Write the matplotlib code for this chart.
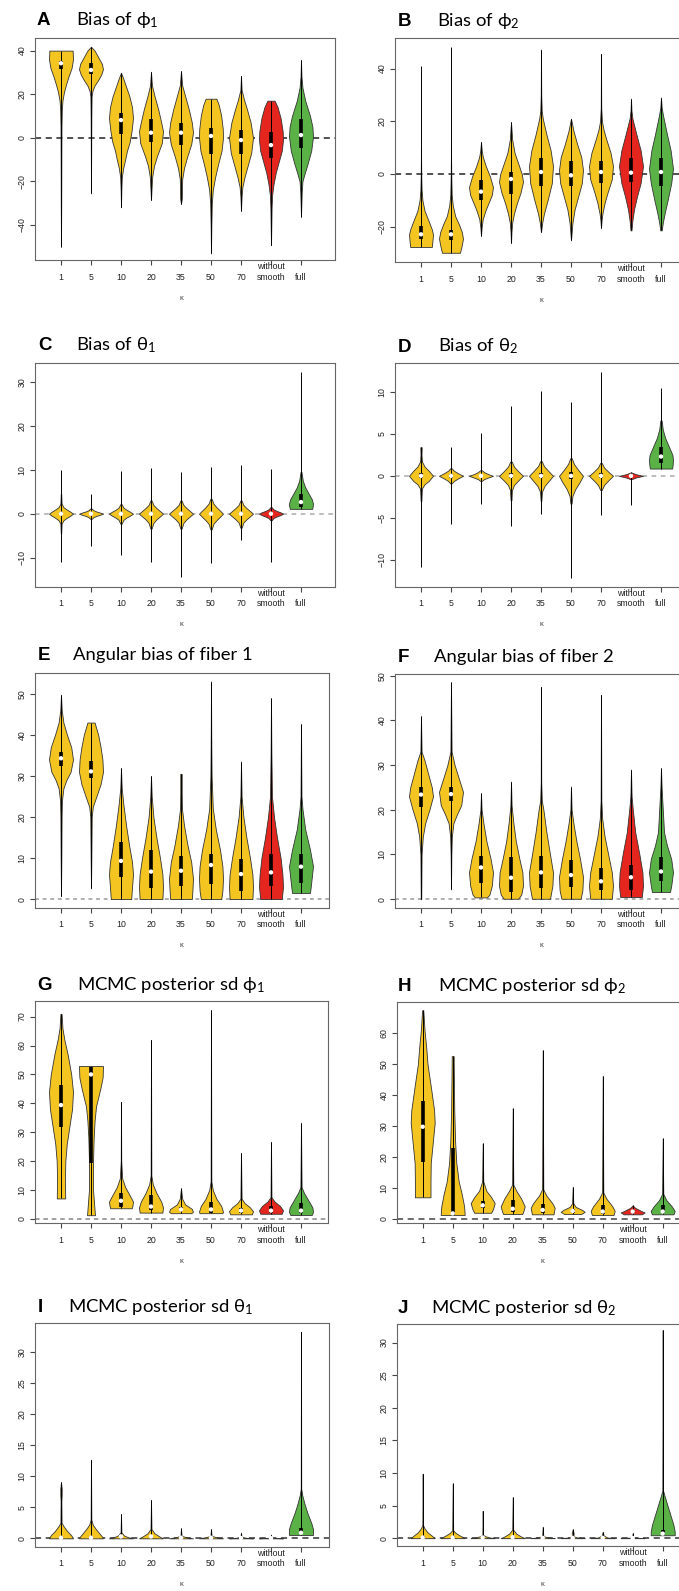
import matplotlib
matplotlib.use("Agg")
import matplotlib.pyplot as plt

plt.rcParams['font.family'] = ['Liberation Sans', 'DejaVu Sans']
plt.rcParams['mathtext.fontset'] = 'custom'
plt.rcParams['mathtext.rm'] = 'Lato'
plt.rcParams['mathtext.it'] = 'Lato:italic'

# Categorias do eixo x (kappa)
categorias = ['1', '5', '10', '20', '35', '50', '70', 'smooth', 'full']
posicoes = [1, 2, 3, 4, 5, 6, 7, 8, 9]

# Resumo de cada violino: (min, q1, mediana, q3, max)
# Perfil de cada violino: lista de (valor, largura relativa)

# A - Bias of phi1
A_stats = [(-50.0, 31.4, 34.2, 35.4, 40.0), (-25.6, 29.3, 31.1, 34.2, 41.8),
           (-32.0, 1.5, 8.1, 11.5, 29.9), (-28.7, -1.8, 2.3, 8.6, 30.3),
           (-30.5, -3.4, 2.3, 6.9, 30.6), (-53.2, -7.5, 0.8, 4.6, 17.9),
           (-33.6, -7.5, -1.1, 3.5, 28.4), (-49.3, -9.5, -3.4, 2.8, 17.0),
           (-36.3, -4.6, 1.2, 8.6, 35.7)]
A_corpo = [
    [(40, 0.97), (36, 1.0), (32, 0.88), (28, 0.62), (25, 0.45), (21, 0.25), (17, 0.12), (13, 0.07), (5, 0.04), (-10, 0.03), (-30, 0.02), (-50, 0.0)],
    [(41.8, 0.0), (40, 0.3), (37, 0.6), (34, 0.9), (31.5, 1.0), (29, 0.85), (26.5, 0.6), (24, 0.3), (21.5, 0.12), (19, 0.05), (10, 0.03), (0, 0.02), (-25.6, 0.0)],
    [(29.9, 0.0), (27, 0.2), (23, 0.45), (19, 0.7), (14, 0.92), (9, 1.0), (3, 0.88), (-2, 0.72), (-6, 0.5), (-10, 0.35), (-14, 0.18), (-18, 0.07), (-24, 0.03), (-32, 0.0)],
    [(30.3, 0.0), (24, 0.08), (19, 0.3), (13, 0.6), (7, 0.85), (3, 1.0), (-2.5, 0.9), (-8.5, 0.5), (-13, 0.25), (-18, 0.1), (-23, 0.05), (-28.7, 0.0)],
    [(30.6, 0.0), (24, 0.1), (19, 0.35), (13, 0.65), (7, 0.9), (2.5, 1.0), (-3, 0.85), (-9, 0.5), (-14, 0.25), (-19, 0.1), (-24, 0.08), (-28, 0.07), (-30.5, 0.0)],
    [(17.9, 0.45), (15, 0.65), (10, 0.85), (4, 0.98), (0, 1.0), (-6, 0.88), (-12, 0.6), (-18, 0.35), (-24, 0.15), (-30, 0.07), (-40, 0.03), (-53.2, 0.0)],
    [(28.4, 0.0), (22, 0.05), (17.5, 0.25), (13, 0.5), (7, 0.8), (0, 1.0), (-7, 0.85), (-13, 0.55), (-18, 0.3), (-22.5, 0.12), (-27, 0.05), (-33.6, 0.0)],
    [(17.0, 0.3), (14, 0.55), (9, 0.8), (3, 0.97), (-1, 1.0), (-6, 0.9), (-11, 0.65), (-16, 0.4), (-21, 0.22), (-26, 0.1), (-32, 0.05), (-40, 0.03), (-49.3, 0.0)],
    [(35.7, 0.0), (28, 0.04), (23, 0.12), (17, 0.35), (10, 0.75), (5, 0.95), (0.5, 1.0), (-6, 0.85), (-12, 0.55), (-16.5, 0.3), (-20, 0.12), (-25, 0.06), (-36.3, 0.0)],
]

# B - Bias of phi2
B_stats = [(-27.7, -24.7, -22.9, -19.9, 40.8), (-29.9, -24.9, -22.9, -21.1, 48.3),
           (-23.4, -9.8, -6.7, -2.3, 12.2), (-26.2, -7.7, -1.9, 0.9, 19.7),
           (-22.1, -4.5, 0.75, 5.9, 47.2), (-25.2, -4.5, -0.5, 4.9, 21.0),
           (-20.6, -3.3, 0.75, 5.0, 45.5), (-21.4, -2.9, 0.5, 5.9, 28.6),
           (-21.4, -4.5, 0.75, 5.9, 29.0)]
B_corpo = [
    [(10, 0.0), (0, 0.02), (-6, 0.05), (-10, 0.12), (-14, 0.3), (-18, 0.65), (-21, 0.9), (-23, 1.0), (-25.5, 0.95), (-27.7, 0.9)],
    [(10, 0.0), (0, 0.02), (-8, 0.06), (-12, 0.15), (-16, 0.35), (-19, 0.65), (-22, 0.9), (-24.5, 1.0), (-27, 0.9), (-29.9, 0.75)],
    [(12.2, 0.0), (9, 0.06), (6.5, 0.15), (3, 0.4), (-1, 0.75), (-5, 1.0), (-8, 0.9), (-10, 0.72), (-13.5, 0.4), (-17, 0.15), (-20, 0.06), (-23.4, 0.0)],
    [(19.7, 0.0), (13, 0.1), (8, 0.3), (4, 0.6), (0, 0.9), (-3, 1.0), (-7, 0.8), (-11, 0.5), (-15, 0.25), (-18.5, 0.1), (-22, 0.04), (-26.2, 0.0)],
    [(47.2, 0.0), (30, 0.02), (24, 0.06), (21, 0.15), (15, 0.45), (9, 0.8), (3, 1.0), (-3.5, 0.9), (-10, 0.55), (-15, 0.25), (-18.5, 0.1), (-22.1, 0.0)],
    [(21.0, 0.0), (16.5, 0.2), (11.5, 0.5), (6.5, 0.85), (1.5, 1.0), (-3.5, 0.9), (-8.5, 0.6), (-13.5, 0.3), (-18.5, 0.12), (-22.5, 0.05), (-25.2, 0.0)],
    [(45.5, 0.0), (25, 0.02), (20, 0.08), (17, 0.2), (13, 0.45), (8, 0.8), (3, 1.0), (-2, 0.9), (-7, 0.55), (-11, 0.3), (-15, 0.12), (-17.5, 0.05), (-20.6, 0.0)],
    [(28.6, 0.0), (24, 0.04), (21, 0.12), (15, 0.45), (9, 0.8), (3, 1.0), (-3.5, 0.8), (-8.5, 0.5), (-13.5, 0.25), (-17.5, 0.12), (-21.4, 0.04)],
    [(29.0, 0.0), (25, 0.06), (22, 0.18), (15, 0.5), (9, 0.8), (2, 1.0), (-3.5, 0.85), (-10, 0.55), (-15, 0.3), (-18.5, 0.15), (-21.4, 0.06)],
]

# C - Bias of theta1
C_stats = [(-10.9, -0.4, 0.0, 0.4, 10.0), (-7.4, -0.2, 0.0, 0.2, 4.5),
           (-9.5, -0.3, 0.0, 0.3, 9.8), (-11.0, -0.4, 0.0, 0.4, 10.5),
           (-14.5, -0.4, 0.0, 0.4, 9.5), (-11.2, -0.4, 0.0, 0.4, 10.6),
           (-6.0, -0.4, 0.0, 0.4, 11.0), (-11.0, -0.3, 0.0, 0.3, 10.2),
           (1.1, 1.5, 2.65, 4.5, 32.3)]
C_corpo = [
    [(4.5, 0.02), (2.3, 0.05), (1.5, 0.2), (1.0, 0.45), (0.5, 0.75), (0, 1.0), (-0.5, 0.75), (-1.0, 0.45), (-1.5, 0.2), (-2.3, 0.05), (-4.5, 0.02)],
    [(1.2, 0.05), (0.8, 0.2), (0.5, 0.45), (0.25, 0.75), (0, 1.0), (-0.25, 0.75), (-0.5, 0.45), (-0.8, 0.2), (-1.2, 0.05)],
    [(2.2, 0.05), (1.4, 0.2), (0.9, 0.45), (0.45, 0.75), (0, 1.0), (-0.45, 0.75), (-0.9, 0.45), (-1.4, 0.2), (-2.3, 0.05)],
    [(3.0, 0.05), (2.0, 0.2), (1.3, 0.45), (0.6, 0.75), (0, 1.0), (-0.6, 0.75), (-1.3, 0.45), (-2.1, 0.2), (-3.4, 0.05)],
    [(3.0, 0.05), (2.0, 0.2), (1.3, 0.45), (0.6, 0.75), (0, 1.0), (-0.6, 0.75), (-1.3, 0.45), (-2.1, 0.2), (-3.4, 0.05)],
    [(3.4, 0.05), (2.3, 0.2), (1.5, 0.45), (0.7, 0.75), (0, 1.0), (-0.7, 0.75), (-1.5, 0.45), (-2.3, 0.2), (-3.6, 0.05)],
    [(3.0, 0.05), (2.0, 0.2), (1.3, 0.45), (0.6, 0.75), (0, 1.0), (-0.6, 0.75), (-1.3, 0.45), (-2.0, 0.2), (-3.2, 0.05)],
    [(1.5, 0.05), (1.0, 0.2), (0.6, 0.5), (0.3, 0.8), (0, 1.0), (-0.3, 0.8), (-0.6, 0.5), (-1.0, 0.2), (-1.5, 0.05)],
    [(9.5, 0.04), (7.5, 0.15), (6, 0.35), (4.5, 0.65), (3.3, 0.9), (2.3, 1.0), (1.6, 0.97), (1.1, 0.93)],
]

# D - Bias of theta2
D_stats = [(-10.8, -0.3, 0.0, 0.3, 3.45), (-5.7, -0.2, 0.0, 0.2, 3.45),
           (-3.4, -0.15, 0.0, 0.15, 5.1), (-6.0, -0.3, 0.0, 0.3, 8.3),
           (-4.6, -0.3, 0.0, 0.3, 10.1), (-12.2, -0.4, 0.0, 0.4, 8.8),
           (-4.7, -0.3, 0.0, 0.3, 12.4), (-3.5, -0.1, 0.0, 0.1, 0.5),
           (0.87, 1.5, 2.3, 3.45, 10.5)]
D_corpo = [
    [(3.4, 0.06), (2.5, 0.04), (1.7, 0.08), (1.1, 0.3), (0.6, 0.65), (0, 1.0), (-0.6, 0.65), (-1.0, 0.3), (-1.5, 0.08), (-3, 0.03)],
    [(0.9, 0.06), (0.6, 0.25), (0.3, 0.6), (0, 1.0), (-0.3, 0.6), (-0.6, 0.25), (-0.9, 0.06)],
    [(0.67, 0.06), (0.45, 0.25), (0.2, 0.6), (0, 1.0), (-0.2, 0.6), (-0.4, 0.25), (-0.6, 0.06)],
    [(1.7, 0.06), (1.1, 0.25), (0.55, 0.6), (0, 1.0), (-0.55, 0.6), (-1.1, 0.25), (-1.7, 0.08), (-2.9, 0.04)],
    [(1.75, 0.06), (1.15, 0.25), (0.6, 0.6), (0, 1.0), (-0.6, 0.65), (-1.2, 0.3), (-1.9, 0.08), (-3, 0.03)],
    [(2.1, 0.06), (1.4, 0.25), (0.7, 0.6), (0, 1.0), (-0.8, 0.7), (-1.6, 0.35), (-2.4, 0.12), (-3.3, 0.05)],
    [(1.55, 0.06), (1.0, 0.25), (0.5, 0.6), (0, 1.0), (-0.55, 0.6), (-1.1, 0.25), (-1.7, 0.06)],
    [(0.4, 0.05), (0.2, 0.4), (0, 1.0), (-0.2, 0.4), (-0.4, 0.05)],
    [(6.6, 0.05), (5.5, 0.15), (4.5, 0.35), (3.5, 0.65), (2.5, 0.95), (1.9, 1.0), (1.3, 0.97), (0.87, 0.93)],
]

# E - Angular bias of fiber 1
E_stats = [(0.7, 32.4, 34.3, 35.9, 49.8), (2.6, 29.4, 31.1, 33.7, 43.0),
           (0.0, 5.4, 9.3, 14.0, 31.9), (0.0, 2.6, 6.7, 12.0, 30.0),
           (0.0, 3.2, 6.9, 10.5, 30.5), (0.0, 3.7, 8.3, 10.9, 53.0),
           (0.0, 2.0, 6.1, 9.7, 33.5), (0.0, 3.2, 6.5, 11.1, 48.9),
           (1.5, 3.8, 7.9, 11.1, 42.6)]
E_corpo = [
    [(49.8, 0.0), (46, 0.06), (43, 0.2), (40, 0.5), (37, 0.85), (34, 1.0), (31, 0.8), (29, 0.45), (27, 0.2), (24, 0.08), (20, 0.05), (10, 0.03), (0.7, 0.0)],
    [(43, 0.3), (40, 0.6), (37, 0.8), (34, 0.95), (31, 1.0), (28, 0.8), (25, 0.45), (22.5, 0.15), (20, 0.06), (10, 0.03), (2.6, 0.0)],
    [(31.9, 0.0), (27, 0.06), (23, 0.2), (18, 0.42), (13, 0.68), (9, 0.92), (6, 1.0), (3, 0.92), (0, 0.85)],
    [(30.0, 0.0), (25, 0.06), (20, 0.2), (15, 0.45), (10, 0.75), (6, 0.95), (3, 1.0), (0, 0.95)],
    [(30.5, 0.06), (26, 0.06), (22, 0.08), (18, 0.25), (13, 0.55), (9, 0.85), (5, 1.0), (2, 0.95), (0, 0.9)],
    [(53, 0.0), (40, 0.02), (30, 0.05), (22, 0.15), (17, 0.4), (12, 0.75), (8, 0.95), (5, 1.0), (2, 0.95), (0, 0.85)],
    [(33.5, 0.0), (25, 0.05), (20, 0.2), (15, 0.45), (10, 0.75), (6, 0.95), (3, 1.0), (0, 0.95)],
    [(48.9, 0.0), (36, 0.03), (25, 0.08), (20, 0.25), (15, 0.5), (10, 0.8), (6, 0.95), (3, 1.0), (0, 0.9)],
    [(42.6, 0.0), (25, 0.04), (22, 0.12), (17, 0.35), (12, 0.75), (8, 1.0), (4, 0.85), (1.5, 0.75)],
]

# F - Angular bias of fiber 2
F_stats = [(0.0, 20.7, 23.4, 25.0, 40.9), (2.2, 22.0, 23.5, 25.0, 48.5),
           (0.4, 3.6, 7.1, 9.6, 23.7), (0.1, 1.7, 4.8, 9.4, 26.3),
           (0.1, 2.5, 6.0, 9.7, 47.5), (0.1, 2.8, 5.4, 8.8, 25.2),
           (0.1, 2.1, 4.0, 6.9, 45.7), (0.5, 2.1, 4.9, 7.7, 29.0),
           (1.6, 4.0, 6.2, 9.4, 29.3)]
F_corpo = [
    [(40.9, 0.0), (33, 0.05), (31, 0.3), (28, 0.6), (25, 0.9), (23, 1.0), (20, 0.7), (17, 0.35), (14, 0.15), (10, 0.05), (0, 0.02)],
    [(48.5, 0.0), (33, 0.05), (30, 0.3), (27, 0.65), (24, 1.0), (21, 0.85), (19, 0.5), (17, 0.2), (14, 0.07), (10, 0.03), (2.2, 0.0)],
    [(23.7, 0.0), (20, 0.05), (17, 0.2), (13, 0.45), (9, 0.8), (6, 1.0), (3, 0.9), (1, 0.7), (0.4, 0.5)],
    [(26.3, 0.0), (21, 0.05), (17, 0.2), (13, 0.4), (9, 0.7), (6, 0.95), (3, 1.0), (1, 0.85), (0.1, 0.6)],
    [(47.5, 0.0), (26, 0.02), (22, 0.07), (20, 0.2), (15, 0.45), (10, 0.75), (6, 1.0), (3, 0.95), (0.1, 0.75)],
    [(25.2, 0.0), (20, 0.05), (17, 0.2), (13, 0.45), (9, 0.75), (5, 1.0), (2, 0.95), (0.1, 0.8)],
    [(45.7, 0.0), (22, 0.03), (18, 0.1), (14, 0.3), (10, 0.6), (6, 0.9), (3, 1.0), (0.1, 0.9)],
    [(29.0, 0.0), (23, 0.05), (20, 0.15), (15, 0.35), (10, 0.7), (6, 0.95), (3, 1.0), (0.5, 0.9)],
    [(29.3, 0.0), (25, 0.05), (20, 0.15), (15, 0.25), (12, 0.5), (9, 0.85), (6, 1.0), (3, 0.85), (1.6, 0.75)],
]

# G - MCMC posterior sd phi1
G_stats = [(7.1, 31.9, 39.4, 46.3, 70.9), (1.3, 19.5, 50.0, 52.4, 52.9),
           (3.7, 4.3, 6.3, 8.9, 40.5), (2.2, 3.1, 4.3, 8.3, 61.9),
           (2.0, 2.8, 3.3, 4.3, 10.6), (2.0, 2.2, 3.3, 6.0, 72.2),
           (1.6, 2.2, 2.9, 3.9, 22.9), (1.8, 2.2, 2.9, 4.5, 26.7),
           (1.4, 2.0, 2.9, 5.4, 33.3)]
G_corpo = [
    [(70.9, 0.05), (66, 0.12), (62, 0.28), (57, 0.55), (50, 0.85), (44, 1.0), (38, 0.92), (32, 0.7), (26, 0.48), (20, 0.36), (14, 0.33), (7.1, 0.35)],
    [(52.9, 1.0), (49, 0.97), (45.5, 0.8), (42, 0.6), (39, 0.42), (34, 0.3), (28, 0.22), (20, 0.17), (10, 0.17), (1.3, 0.33)],
    [(40.5, 0.0), (20, 0.02), (14, 0.1), (11, 0.35), (8, 0.75), (6, 1.0), (4.5, 0.95), (3.7, 0.9)],
    [(61.9, 0.0), (15, 0.03), (12, 0.15), (9, 0.45), (6, 0.85), (4, 1.0), (2.2, 0.95)],
    [(10.6, 0.0), (7, 0.1), (5, 0.35), (3.5, 0.9), (2.5, 1.0), (2.0, 0.85)],
    [(72.2, 0.0), (13, 0.03), (10, 0.15), (7, 0.45), (4.5, 0.85), (2.5, 1.0), (2.0, 0.95)],
    [(22.9, 0.0), (7, 0.05), (5.5, 0.3), (4, 0.75), (2.7, 1.0), (1.6, 0.9)],
    [(26.7, 0.0), (7.5, 0.04), (6, 0.3), (4.5, 0.75), (3, 1.0), (1.8, 0.9)],
    [(33.3, 0.0), (11, 0.05), (9, 0.25), (6.5, 0.6), (4, 0.95), (2.5, 1.0), (1.4, 0.9)],
]

# H - MCMC posterior sd phi2
H_stats = [(6.9, 18.4, 29.7, 38.0, 67.3), (1.2, 1.2, 1.7, 22.7, 52.5),
           (1.9, 3.3, 4.3, 5.8, 24.3), (1.5, 2.3, 3.2, 6.0, 35.6),
           (1.4, 1.9, 2.8, 4.7, 54.4), (1.5, 1.9, 2.5, 3.0, 10.3),
           (1.2, 1.5, 2.3, 4.4, 46.1), (1.4, 1.7, 2.3, 2.8, 4.3),
           (1.4, 1.7, 2.3, 4.4, 25.9)]
H_corpo = [
    [(67.3, 0.05), (61, 0.15), (55, 0.3), (50, 0.4), (42, 0.7), (35, 0.95), (31, 1.0), (25, 0.85), (18, 0.67), (12, 0.65), (6.9, 0.65)],
    [(52.5, 0.08), (45, 0.1), (35, 0.13), (25, 0.2), (18, 0.3), (12, 0.5), (8, 0.75), (4, 0.95), (1.2, 1.0)],
    [(24.3, 0.0), (12, 0.05), (9, 0.3), (7, 0.7), (5, 1.0), (3, 0.85), (1.9, 0.7)],
    [(35.6, 0.0), (11, 0.05), (9, 0.3), (6.5, 0.7), (4, 1.0), (2.5, 0.9), (1.5, 0.8)],
    [(54.4, 0.0), (9.5, 0.05), (7.5, 0.3), (5, 0.8), (3.5, 1.0), (1.4, 0.9)],
    [(10.3, 0.0), (5, 0.05), (3.8, 0.25), (2.8, 0.8), (2.2, 1.0), (1.5, 0.7)],
    [(46.1, 0.0), (8.5, 0.05), (6.5, 0.3), (4, 0.8), (2.5, 1.0), (1.2, 0.9)],
    [(4.3, 0.0), (3.5, 0.2), (2.5, 0.7), (2.0, 1.0), (1.4, 0.75)],
    [(25.9, 0.0), (8, 0.05), (6, 0.3), (4, 0.75), (2.5, 1.0), (1.4, 0.9)],
]

# I - MCMC posterior sd theta1
I_stats = [(0.0, 0.02, 0.1, 0.3, 9.1), (0.0, 0.02, 0.1, 0.3, 12.7),
           (0.0, 0.05, 0.3, 0.4, 3.9), (0.0, 0.05, 0.3, 0.4, 6.2),
           (0.0, 0.0, 0.1, 0.15, 1.6), (0.0, 0.0, 0.1, 0.15, 1.5),
           (0.0, 0.0, 0.05, 0.1, 0.9), (0.0, 0.0, 0.02, 0.05, 0.6),
           (0.55, 0.7, 0.9, 1.6, 33.3)]
I_corpo = [
    [(9.1, 0.0), (8, 0.06), (7, 0.06), (6, 0.03), (2.5, 0.05), (2.0, 0.2), (1.2, 0.5), (0.5, 0.85), (0.0, 1.0)],
    [(12.7, 0.0), (3, 0.03), (2.2, 0.15), (1.5, 0.4), (0.8, 0.7), (0.2, 0.95), (0.0, 1.0)],
    [(3.9, 0.0), (1.0, 0.03), (0.5, 0.2), (0.2, 0.5), (0.0, 0.9)],
    [(6.2, 0.0), (1.5, 0.04), (0.8, 0.3), (0.3, 0.7), (0.0, 1.0)],
    [(1.6, 0.0), (0.4, 0.05), (0.2, 0.4), (0.0, 1.0)],
    [(1.5, 0.0), (0.4, 0.05), (0.2, 0.4), (0.0, 1.0)],
    [(0.9, 0.0), (0.2, 0.05), (0.05, 0.6), (0.0, 1.0)],
    [(0.6, 0.0), (0.1, 0.05), (0.0, 1.0)],
    [(33.3, 0.0), (8, 0.02), (7, 0.1), (5.5, 0.3), (4, 0.55), (2.5, 0.85), (1.5, 1.0), (0.55, 1.0)],
]

# J - MCMC posterior sd theta2
J_stats = [(0.0, 0.02, 0.1, 0.3, 9.9), (0.0, 0.02, 0.1, 0.3, 8.4),
           (0.0, 0.0, 0.1, 0.2, 4.2), (0.0, 0.02, 0.15, 0.4, 6.3),
           (0.0, 0.0, 0.05, 0.1, 1.75), (0.0, 0.0, 0.05, 0.1, 1.35),
           (0.0, 0.0, 0.05, 0.1, 1.0), (0.0, 0.0, 0.02, 0.05, 0.8),
           (0.45, 0.45, 0.7, 1.2, 31.9)]
J_corpo = [
    [(9.9, 0.0), (2, 0.03), (1.5, 0.15), (0.9, 0.4), (0.4, 0.75), (0.0, 1.0)],
    [(8.4, 0.0), (1.2, 0.04), (0.8, 0.25), (0.4, 0.6), (0.0, 1.0)],
    [(4.2, 0.0), (0.5, 0.03), (0.3, 0.2), (0.1, 0.6), (0.0, 1.0)],
    [(6.3, 0.0), (1.3, 0.04), (0.7, 0.3), (0.3, 0.65), (0.0, 1.0)],
    [(1.75, 0.0), (0.3, 0.05), (0.1, 0.5), (0.0, 1.0)],
    [(1.35, 0.0), (0.8, 0.08), (0.3, 0.06), (0.1, 0.4), (0.0, 1.0)],
    [(1.0, 0.0), (0.4, 0.08), (0.1, 0.4), (0.0, 1.0)],
    [(0.8, 0.0), (0.1, 0.05), (0.0, 1.0)],
    [(31.9, 0.0), (7.3, 0.03), (6.5, 0.15), (5, 0.4), (3.5, 0.65), (2, 0.9), (1, 1.0), (0.45, 1.0)],
]

AMARELO = '#F4C520'
VERMELHO = '#E5261F'
VERDE = '#5AB146'
cores = [AMARELO] * 7 + [VERMELHO, VERDE]

W, H = 679, 1591
fig = plt.figure(figsize=(W / 100, H / 100), dpi=100, facecolor='white')

# (letra, titulo, stats, corpo, caixa em px (l, t, r, b), ylim, yticks,
#  x da letra, x do titulo, linha de base, cor da linha zero, tracos)
paineis = [
    ('A', 'Bias of ϕ$_1$', A_stats, A_corpo, (35, 38, 335, 260), (-56.2, 45.8), [-40, -20, 0, 20, 40], 37, 76, 25, '#222222', (4, 3)),
    ('B', 'Bias of ϕ$_2$', B_stats, B_corpo, (395, 38, 695, 262), (-33.4, 51.6), [-20, 0, 20, 40], 398, 437, 26, '#222222', (4, 3)),
    ('C', 'Bias of θ$_1$', C_stats, C_corpo, (35, 363.3, 335, 586.7), (-16.6, 34.2), [-10, 0, 10, 20, 30], 38, 76, 350, '#aaaaaa', (3, 3)),
    ('D', 'Bias of θ$_2$', D_stats, D_corpo, (395, 363.3, 695, 586.7), (-13.2, 13.4), [-10, -5, 0, 5, 10], 398, 438, 351.7, '#aaaaaa', (3, 3)),
    ('E', 'Angular bias of fiber 1', E_stats, E_corpo, (35, 673.3, 329, 907.7), (-2.1, 55.0), [0, 10, 20, 30, 40, 50], 38, 73, 660, '#999999', (2.5, 2.5)),
    ('F', 'Angular bias of fiber 2', F_stats, F_corpo, (395, 674.3, 695, 907.7), (-1.9, 50.3), [0, 10, 20, 30, 40, 50], 398, 434, 661.7, '#999999', (2.5, 2.5)),
    ('G', 'MCMC posterior sd ϕ$_1$', G_stats, G_corpo, (35, 1001, 328, 1223.3), (-1.5, 75.4), [0, 10, 20, 30, 40, 50, 60, 70], 37, 77, 990, '#888888', (3, 2.5)),
    ('H', 'MCMC posterior sd ϕ$_2$', H_stats, H_corpo, (396.7, 1001.7, 697, 1223.3), (-1.5, 70.1), [0, 10, 20, 30, 40, 50, 60], 398, 438, 991, '#444444', (4, 3)),
    ('I', 'MCMC posterior sd θ$_1$', I_stats, I_corpo, (35, 1323.3, 329, 1546.7), (-1.35, 34.7), [0, 5, 10, 15, 20, 25, 30], 38, 68, 1311.7, '#333333', (4, 3)),
    ('J', 'MCMC posterior sd θ$_2$', J_stats, J_corpo, (396.7, 1324.3, 697, 1546), (-1.2, 32.8), [0, 5, 10, 15, 20, 25, 30], 398, 431, 1312.7, '#333333', (4, 3)),
]

for letra, titulo, stats, corpo, caixa, ylim, yticks, lx, tx, base, czero, tracos in paineis:
    l, t, r, b = caixa
    ax = fig.add_axes([l / W, 1 - b / H, (r - l) / W, (b - t) / H])
    x0 = 1 - 26 / 30
    ax.set_xlim(x0, x0 + (r - l) / 30)
    ax.set_ylim(*ylim)

    ax.axhline(0, color=czero, lw=1.1, dashes=tracos, zorder=1)

    vp = []
    for s, c in zip(stats, corpo):
        vp.append(dict(coords=[p[0] for p in c], vals=[p[1] for p in c],
                       mean=s[2], median=s[2], min=s[0], max=s[4]))
    partes = ax.violin(vp, positions=posicoes, widths=0.8, showmeans=False,
                       showextrema=False, showmedians=False)
    for corpo_v, cor in zip(partes['bodies'], cores):
        corpo_v.set_facecolor(cor)
        corpo_v.set_edgecolor('#333333')
        corpo_v.set_linewidth(0.6)
        corpo_v.set_alpha(1)
        corpo_v.set_zorder(2)

    ax.vlines(posicoes, [s[0] for s in stats], [s[4] for s in stats], color='black', lw=0.7, zorder=3)
    ax.vlines(posicoes, [s[1] for s in stats], [s[3] for s in stats], color='black', lw=2.6, zorder=4)
    ax.scatter(posicoes, [s[2] for s in stats], s=10, color='white', edgecolors='none', zorder=5)

    ax.set_xticks(posicoes)
    ax.set_xticklabels(categorias)
    ax.set_yticks(yticks)
    ax.tick_params(axis='x', length=3.5, pad=5.5, labelsize=6.3, colors='#444444', labelcolor='#222222')
    ax.tick_params(axis='y', length=3.5, pad=2.5, labelsize=6.3, colors='#444444', labelcolor='#222222')
    for lab in ax.get_yticklabels():
        lab.set_rotation(90)
        lab.set_va('center')
    for sp in ax.spines.values():
        sp.set_color('#666666')
        sp.set_linewidth(0.8)

    ax.annotate('without', xy=(8, 0), xycoords=('data', 'axes fraction'), xytext=(0, -6.5),
                textcoords='offset pixels', ha='center', va='center', fontsize=6.3, color='#222222')
    ax.annotate('κ', xy=(5, 0), xycoords=('data', 'axes fraction'), xytext=(0, -38),
                textcoords='offset pixels', ha='center', va='center', fontsize=5.5, color='#444444')

    fig.text(lx / W, 1 - base / H, letra, fontsize=13.5, fontweight='bold', va='baseline',
             family=['Liberation Sans', 'DejaVu Sans'])
    fig.text(tx / W, 1 - base / H, titulo, fontsize=13.3, va='baseline',
             family=['Lato', 'DejaVu Sans'])

fig.savefig('out.png', dpi=100, facecolor='white')
